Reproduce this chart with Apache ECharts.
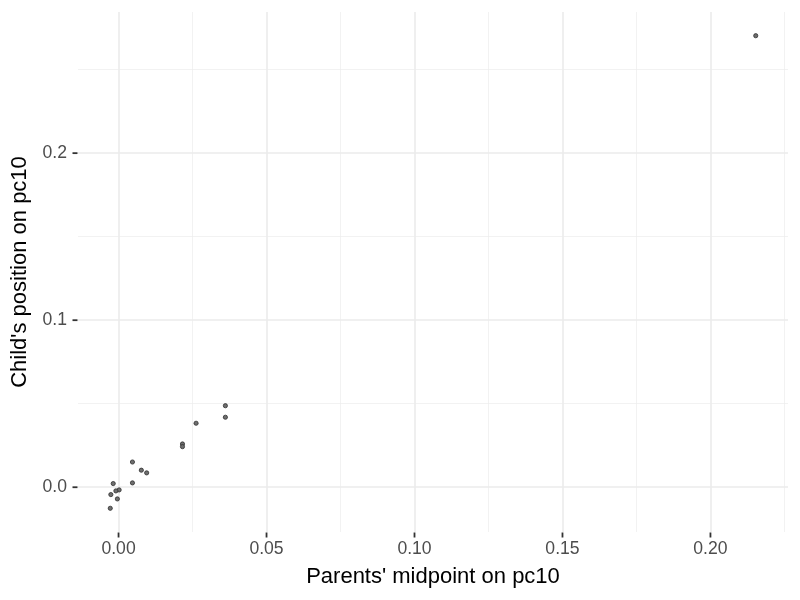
<!DOCTYPE html>
<html>
<head>
<meta charset="utf-8">
<script src="https://cdn.jsdelivr.net/npm/echarts@6/dist/echarts.min.js"></script>
<style>
  html, body { margin: 0; background: #fff; }
  #chart { width: 800px; height: 600px; }
</style>
</head>
<body>
<div id="chart"></div>
<script>
// parents' midpoint (x) and child's position (y) on pc10
var parentMid = [0.0361, 0.0361, 0.0262, 0.0216, 0.0216, 0.0047, 0.0077, 0.0095,
                 0.0047, -0.0018, 0.0002, -0.0009, -0.0026, -0.0004, -0.0028, 0.2153];
var childPos  = [0.0488, 0.0419, 0.0383, 0.0259, 0.0243, 0.0151, 0.0102, 0.0086,
                 0.0026, 0.0022, -0.0016, -0.0022, -0.0044, -0.0070, -0.0126, 0.2703];

var xTicks = [0, 0.05, 0.10, 0.15, 0.20];
var xMinor = [0.025, 0.075, 0.125, 0.175, 0.225];
var yTicks = [0, 0.1, 0.2];
var yMinor = [0.05, 0.15, 0.25];

var xRange = [-0.0137, 0.2262];
var yRange = [-0.0268, 0.2845];

var points = parentMid.map(function (x, i) { return [x, childPos[i]]; });

//网格线
var gridLines = [];
xMinor.forEach(function (v) { gridLines.push({ xAxis: v, lineStyle: { color: '#ededed', width: 0.7, type: 'solid' } }); });
yMinor.forEach(function (v) { gridLines.push({ yAxis: v, lineStyle: { color: '#ededed', width: 0.7, type: 'solid' } }); });
xTicks.forEach(function (v) { gridLines.push({ xAxis: v, lineStyle: { color: '#ebebeb', width: 1.6, type: 'solid' } }); });
yTicks.forEach(function (v) { gridLines.push({ yAxis: v, lineStyle: { color: '#ebebeb', width: 1.6, type: 'solid' } }); });

//刻度线: small rect marks in thin strips beside the panel
var xTickMarks = xTicks.map(function (v) { return [v, 0.5]; });
var yTickMarks = yTicks.map(function (v) { return [0.5, v]; });

var font = 'Liberation Sans, Arial, sans-serif';

var chart = echarts.init(document.getElementById('chart'));
chart.setOption({
  animation: false,
  backgroundColor: '#fff',
  grid: [
    { left: 78, right: 12, top: 12, bottom: 68 },
    { left: 78, right: 12, top: 532, height: 6 },
    { left: 72, width: 6, top: 12, bottom: 68 }
  ],
  xAxis: [{
    type: 'value',
    min: xRange[0],
    max: xRange[1],
    name: "Parents' midpoint on pc10",
    nameLocation: 'middle',
    nameGap: 34,
    nameTextStyle: { color: '#000', fontSize: 22, fontFamily: font },
    axisLine: { show: false, onZero: false },
    axisTick: { show: false },
    axisLabel: {
      customValues: xTicks, margin: 8, color: '#4d4d4d', fontSize: 17.6, fontFamily: font,
      formatter: function (v) { return v.toFixed(2); }
    },
    splitLine: { show: false }
  }, {
    type: 'value', gridIndex: 1, show: false, min: xRange[0], max: xRange[1]
  }, {
    type: 'value', gridIndex: 2, show: false, min: 0, max: 1
  }],
  yAxis: [{
    type: 'value',
    min: yRange[0],
    max: yRange[1],
    name: "Child's position on pc10",
    nameLocation: 'middle',
    nameGap: 47,
    nameTextStyle: { color: '#000', fontSize: 22, fontFamily: font },
    axisLine: { show: false, onZero: false },
    axisTick: { show: false },
    axisLabel: {
      customValues: yTicks, margin: 11, color: '#4d4d4d', fontSize: 17.6, fontFamily: font,
      formatter: function (v) { return v.toFixed(1); }
    },
    splitLine: { show: false }
  }, {
    type: 'value', gridIndex: 1, show: false, min: 0, max: 1
  }, {
    type: 'value', gridIndex: 2, show: false, min: yRange[0], max: yRange[1]
  }],
  series: [
    {
      type: 'scatter',
      data: [],
      z: 1,
      silent: true,
      markLine: {
        silent: true,
        symbol: 'none',
        precision: 4,
        label: { show: false },
        animation: false,
        data: gridLines
      }
    },
    {
      type: 'scatter',
      xAxisIndex: 1,
      yAxisIndex: 1,
      clip: false,
      silent: true,
      data: xTickMarks,
      symbol: 'rect',
      symbolSize: [1.8, 5],
      itemStyle: { color: '#333', opacity: 1 }
    },
    {
      type: 'scatter',
      xAxisIndex: 2,
      yAxisIndex: 2,
      clip: false,
      silent: true,
      data: yTickMarks,
      symbol: 'rect',
      symbolSize: [5, 1.8],
      itemStyle: { color: '#333', opacity: 1 }
    },
    {
      type: 'scatter',
      z: 5,
      data: points,
      symbolSize: 4.2,
      itemStyle: { color: '#6e6e6e', borderColor: '#2e2e2e', borderWidth: 0.8, opacity: 1 }
    }
  ]
});
</script>
</body>
</html>
